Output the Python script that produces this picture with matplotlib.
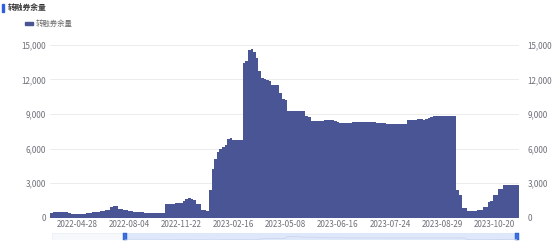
import matplotlib
matplotlib.use("Agg")
from matplotlib import pyplot as plt
from matplotlib.patches import Rectangle
import numpy as np

plt.rcParams['font.family'] = ['Noto Sans CJK SC', 'DejaVu Sans']

title = "转融券余量"
series_name = "转融券余量"

tick_labels = ["2022-04-28", "2022-08-04", "2022-11-22", "2023-02-16", "2023-05-08",
               "2023-06-16", "2023-07-24", "2023-08-29", "2023-10-20"]
tick_index = [10, 30, 50, 70, 90, 110, 130, 150, 170]

# values, one per trading-day category
balance = [
    350, 450, 470, 480, 480, 470, 460, 430, 330, 280,
    270, 270, 280, 300, 350, 400, 440, 480, 520, 560,
    600, 640, 680, 950, 1000, 980, 720, 700, 680, 640,
    600, 560, 520, 480, 460, 440, 430, 420, 420, 410,
    410, 420, 420, 430, 1150, 1170, 1180, 1170, 1280, 1300,
    1290, 1400, 1620, 1680, 1650, 1550, 1180, 1150, 640, 650,
    600, 2400, 4200, 5100, 5700, 5950, 6100, 6300, 6800, 6900,
    6750, 6750, 6740, 6750, 13400, 13600, 14600, 14650, 14400, 13900,
    12700, 12100, 12000, 11950, 11900, 11550, 11500, 11500, 10800, 10300,
    10200, 9300, 9250, 9250, 9260, 9250, 9240, 9250, 8800, 8750,
    8400, 8350, 8380, 8400, 8420, 8440, 8450, 8450, 8440, 8430,
    8300, 8200, 8200, 8200, 8250, 8260, 8280, 8290, 8300, 8300,
    8300, 8290, 8280, 8280, 8270, 8260, 8250, 8250, 8240, 8150,
    8120, 8100, 8100, 8110, 8120, 8130, 8150, 8500, 8520, 8520,
    8520, 8530, 8530, 8520, 8600, 8650, 8700, 8830, 8830, 8830,
    8830, 8840, 8830, 8830, 8820, 8830, 2400, 1960, 800, 820,
    560, 560, 550, 570, 650, 660, 950, 940, 1370, 1400,
    1960, 1980, 2450, 2480, 2830, 2850, 2840, 2820, 2800, 2810,
]

bar_color = "#4a5596"
label_color = "#6e7079"

fig = plt.figure(figsize=(5.54, 2.45), dpi=100)
ax = fig.add_axes([50 / 554, 1 - 217.5 / 245, 469 / 554, 172.5 / 245])

x = np.arange(len(balance))
ax.bar(x, balance, width=1.0, color=bar_color, linewidth=0)
ax.set_xlim(-0.5, len(balance) - 0.5)
ax.set_ylim(0, 15000)

yticks = np.arange(0, 15001, 3000)
ax.set_yticks(yticks)
ax.set_yticklabels([f"{v:,}" for v in yticks])
ax.set_xticks(tick_index)
ax.set_xticklabels(tick_labels)
ax.tick_params(axis='both', length=0, labelsize=5.8, labelcolor=label_color)
ax.tick_params(axis='y', pad=3)
ax.tick_params(axis='x', pad=2)
ax.grid(axis='y', color="#e9e9e9", linewidth=0.6)
ax.set_axisbelow(True)
for s in ax.spines.values():
    s.set_visible(False)

ax2 = ax.twinx()
ax2.set_ylim(0, 15000)
ax2.set_yticks(yticks)
ax2.set_yticklabels([f"{v:,}" for v in yticks])
ax2.tick_params(axis='y', length=0, labelsize=5.8, labelcolor=label_color, pad=6)
for s in ax2.spines.values():
    s.set_visible(False)

# title with blue marker
fig.patches.append(Rectangle((2 / 554, 1 - 12 / 245), 2 / 554, 8 / 245,
                             transform=fig.transFigure, color="#2f5fe0"))
fig.text(8 / 554, 1 - 7.5 / 245, title, fontsize=5.6, fontweight='bold',
         color="#333333", va='center', ha='left')

# legend
fig.patches.append(Rectangle((25 / 554, 1 - 25.5 / 245), 8 / 554, 3 / 245,
                             transform=fig.transFigure, color=bar_color))
fig.text(36 / 554, 1 - 24 / 245, series_name, fontsize=5.3, color="#666666",
         va='center', ha='left')

# data zoom slider
sl = fig.add_axes([52 / 554, 1 - 240 / 245, 465 / 554, 7 / 245])
sl.set_xlim(0, 1)
sl.set_ylim(0, 1)
sl.axis('off')
sl.add_patch(Rectangle((0, 0), 1, 1, facecolor="#f6f8fc", edgecolor="#e4e8f0", linewidth=0.4))
start = (125 - 52) / 465
sl.add_patch(Rectangle((start, 0), 1 - start, 1, facecolor="#dfe7fa", edgecolor="none"))
sx = start + (1 - start) * x / (len(balance) - 1)
sv = np.array(balance) / max(balance) * 0.5
sl.plot(sx, sv, color="#c9d3ec", linewidth=0.5)
for hx in (start, 1.0):
    sl.add_patch(Rectangle((hx - 0.004, 0.05), 0.008, 0.9, facecolor="#3a6fe0",
                           edgecolor="#2456c8", linewidth=0.3, clip_on=False))

fig.savefig("out.png", dpi=100)
